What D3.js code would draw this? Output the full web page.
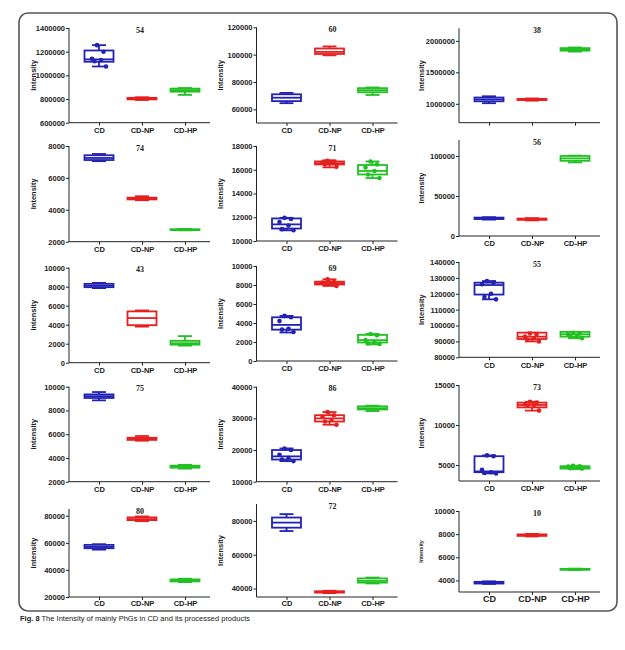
<!DOCTYPE html>
<html><head><meta charset="utf-8">
<script src="https://cdn.jsdelivr.net/npm/d3@7"></script>
<style>body{margin:0;background:#fff}svg{display:block}</style>
</head><body>
<svg id="c" width="625" height="650"></svg>
<script>
// ---------- DATA ----------
const categories = ["CD", "CD-NP", "CD-HP"];
const titles = ["54","60","38","74","71","56","43","69","55","75","86","73","80","72","10"];
// box stats per group: [min, q1, median, q3, max]
const stats54 = [[1075000,1115000,1135000,1210000,1255000],[792000,797000,803000,810000,815000],[835000,862000,875000,888000,893000]];
const stats60 = [[64500,66000,68500,71000,72000],[99500,100500,102000,104500,106000],[70500,72500,74000,75500,76000]];
const stats38 = [[1010000,1040000,1070000,1100000,1120000],[1050000,1060000,1068000,1078000,1085000],[1830000,1845000,1862000,1885000,1895000]];
const stats74 = [[7050,7120,7250,7420,7500],[4600,4650,4700,4760,4850],[2710,2730,2750,2780,2800]];
const stats71 = [[10900,11050,11400,11900,11950],[16200,16450,16550,16700,16800],[15300,15600,15900,16400,16700]];
const stats56 = [[20500,21200,22000,23000,23500],[19500,20200,21000,21800,22300],[92000,94000,97000,100000,100500]];
const stats43 = [[7850,7950,8100,8300,8400],[3800,3950,4700,5400,5500],[1800,1900,2050,2300,2800]];
const stats69 = [[3000,3300,3800,4600,4750],[7900,8050,8200,8350,8600],[1750,1950,2200,2750,2850]];
const stats55 = [[116500,119500,125500,127000,128000],[90000,91500,93000,95500,95500],[92000,93000,94500,96000,96000]];
const stats75 = [[8850,9050,9200,9350,9550],[5450,5520,5600,5700,5850],[3100,3180,3250,3350,3420]];
const stats86 = [[16500,17000,18000,20000,20500],[28000,29000,30000,31000,32000],[32300,32800,33200,33800,34000]];
const stats73 = [[3950,4100,4200,6100,6200],[11800,12200,12500,12800,12900],[4500,4550,4700,4850,4900]];
const stats80 = [[55000,56000,57000,58500,59000],[76000,76800,77500,78800,79500],[31000,31500,32200,33000,33500]];
const stats72 = [[74000,76000,79000,82000,84000],[37300,37600,38000,38400,38700],[43000,43500,44500,46000,46500]];
const stats10 = [[3700,3730,3800,3880,3920],[7800,7850,7900,7980,8020],[4900,4920,4960,5000,5020]];
// individual points (where visible)
const pts54 = [[1255000,1200000,1140000,1130000,1120000,1075000],[],[]];
const pts71 = [[11950,11850,11600,11300,11000,10900],[16750,16650,16600,16550,16450,16250],[16700,16450,16200,15900,15600,15300]];
const pts69 = [[4750,4600,4200,3400,3300,3050],[8600,8300,8250,8200,8100,7900],[2850,2700,2200,2000,1850,1800]];
const pts73 = [[6200,6100,4400,4100,4000,3950],[12900,12800,12600,12500,12400,11800],[4900,4850,4800,4700,4600,4550]];
const pts55 = [[128000,127000,126000,120000,118000,116500],[95000,94500,93000,92000,91000,90000],[95500,95000,94500,93500,93000,92000]];
const pts86 = [[20500,20000,18500,17500,17000,16500],[32000,31000,30500,29500,29000,28000],[]];
// y-axis domains and tick values
const dom54 = [600000,1400000], ticks54 = [600000,800000,1000000,1200000,1400000];
const dom60 = [50000,120000], ticks60 = [60000,80000,100000,120000];
const dom38 = [700000,2200000], ticks38 = [1000000,1500000,2000000];
const dom74 = [2000,8000], ticks74 = [2000,4000,6000,8000];
const dom71 = [10000,18000], ticks71 = [10000,12000,14000,16000,18000];
const dom56 = [0,120000], ticks56 = [0,50000,100000];
const dom43 = [0,10000], ticks43 = [0,2000,4000,6000,8000,10000];
const dom69 = [0,10000], ticks69 = [0,2000,4000,6000,8000,10000];
const dom55 = [80000,140000], ticks55 = [80000,90000,100000,110000,120000,130000,140000];
const dom75 = [2000,10000], ticks75 = [2000,4000,6000,8000,10000];
const dom86 = [10000,40000], ticks86 = [10000,20000,30000,40000];
const dom73 = [3000,15000], ticks73 = [5000,10000,15000];
const dom80 = [20000,85000], ticks80 = [20000,40000,60000,80000];
const dom72 = [35000,90000], ticks72 = [40000,60000,80000];
const dom10 = [3000,10000], ticks10 = [4000,6000,8000,10000];

const panelStats = [stats54,stats60,stats38,stats74,stats71,stats56,stats43,stats69,stats55,stats75,stats86,stats73,stats80,stats72,stats10];
const panelPts = [pts54,null,null,null,pts71,null,null,pts69,pts55,null,pts86,pts73,null,null,null];
const panelDom = [dom54,dom60,dom38,dom74,dom71,dom56,dom43,dom69,dom55,dom75,dom86,dom73,dom80,dom72,dom10];
const panelTicks = [ticks54,ticks60,ticks38,ticks74,ticks71,ticks56,ticks43,ticks69,ticks55,ticks75,ticks86,ticks73,ticks80,ticks72,ticks10];

// ---------- LAYOUT ----------
const colAxisX = [69, 256.5, 459];
const colTitleDx = [71, 76, 78];
const rangesY = [
  [122.7,28],[123,27.3],[122.7,28.3],
  [241.7,146],[241,146],[236,140],
  [362.7,267.7],[361,266],[357.3,262],
  [481.7,386.7],[481.7,386.7],[481,385],
  [597,509],[597,504],[592,511]
];
const colors = ["#2222b4", "#e5201f", "#22c122"];
const svg = d3.select("#c");

svg.append("rect").attr("x",19).attr("y",13).attr("width",598).attr("height",598)
  .attr("rx",9).attr("fill","none").attr("stroke","#555").attr("stroke-width",1.6);

panelStats.forEach((stats, p) => {
  const col = p % 3;
  const ax = colAxisX[col];
  const [yb, yt] = rangesY[p];
  const g = svg.append("g");
  const y = d3.scaleLinear().domain(panelDom[p]).range([yb, yt]);
  const x = d3.scalePoint().domain(categories).range([ax + 30, ax + 116]);
  const fs = 7.5;
  // y axis
  const yAx = g.append("g").attr("transform", `translate(${ax},0)`)
    .call(d3.axisLeft(y).tickValues(panelTicks[p]).tickFormat(d3.format("d")).tickSize(3).tickSizeOuter(0));
  yAx.select(".domain").remove();
  g.append("line").attr("x1",ax).attr("x2",ax).attr("y1",yt).attr("y2",yb).attr("stroke","#222").attr("stroke-width",1);
  yAx.selectAll("line").attr("stroke","#222");
  yAx.selectAll("text").attr("font-family","Liberation Sans, Arial, sans-serif").attr("font-weight","bold")
    .attr("font-size",fs).attr("fill","#222").attr("x",-4);
  // x axis
  const xAx = g.append("g").attr("transform", `translate(0,${yb})`)
    .call(d3.axisBottom(x).tickSize(3).tickSizeOuter(0));
  xAx.select(".domain").remove();
  g.append("line").attr("x1",ax).attr("x2",ax+141).attr("y1",yb).attr("y2",yb).attr("stroke","#222").attr("stroke-width",1);
  xAx.selectAll("line").attr("stroke","#222");
  const big = p === 14;
  xAx.selectAll("text").attr("font-family","Liberation Sans, Arial, sans-serif").attr("font-weight","bold")
    .attr("font-size", big ? 9 : fs).attr("fill","#222").attr("y", p >= 12 ? 4 : 5);
  if (p === 2) xAx.selectAll("text").remove();
  // y label
  g.append("text").attr("transform",`translate(${ax - (col===2?38:36)},${(yt+yb)/2}) rotate(-90)`)
    .attr("text-anchor","middle").attr("dy","0.35em")
    .attr("font-family","Liberation Sans, Arial, sans-serif").attr("font-weight","bold")
    .attr("font-size", big ? 5.5 : fs).attr("fill","#222").text("Intensity");
  // title
  g.append("text").attr("x", ax + colTitleDx[col]).attr("y", yt + 4.5)
    .attr("text-anchor","middle").attr("font-family","Liberation Serif, Times New Roman, serif")
    .attr("font-weight","bold").attr("font-size",8).attr("fill","#222").text(titles[p]);
  // boxes
  const bw = 29, cw = 14;
  stats.forEach((s, i) => {
    const cx = x(categories[i]);
    const c = colors[i];
    const bg = g.append("g").attr("stroke", c).attr("stroke-width", 1.8).attr("fill", "none");
    bg.append("line").attr("x1",cx).attr("x2",cx).attr("y1",y(s[0])).attr("y2",y(s[1]));
    bg.append("line").attr("x1",cx).attr("x2",cx).attr("y1",y(s[3])).attr("y2",y(s[4]));
    bg.append("line").attr("x1",cx-cw/2).attr("x2",cx+cw/2).attr("y1",y(s[0])).attr("y2",y(s[0]));
    bg.append("line").attr("x1",cx-cw/2).attr("x2",cx+cw/2).attr("y1",y(s[4])).attr("y2",y(s[4]));
    bg.append("rect").attr("x",cx-bw/2).attr("width",bw).attr("y",y(s[3])).attr("height",Math.max(0.5,y(s[1])-y(s[3])))
      .attr("fill","#fff");
    bg.append("line").attr("x1",cx-bw/2).attr("x2",cx+bw/2).attr("y1",y(s[2])).attr("y2",y(s[2]));
    const pts = panelPts[p] ? panelPts[p][i] : [];
    (pts || []).forEach((v, k) => {
      g.append("circle").attr("cx", cx + (k % 2 === 0 ? -1 : 1) * (2 + (k % 3) * 2.5)).attr("cy", y(v))
        .attr("r", 2.3).attr("fill", c);
    });
  });
});

// caption
const cap = svg.append("text").attr("x",20).attr("y",621)
  .attr("font-family","Liberation Sans, Arial, sans-serif").attr("font-size",7.5).attr("fill","#222");
cap.append("tspan").attr("font-weight","bold").text("Fig. 8");
cap.append("tspan").text(" The Intensity of mainly PhGs in CD and its processed products");
</script>
</body></html>
